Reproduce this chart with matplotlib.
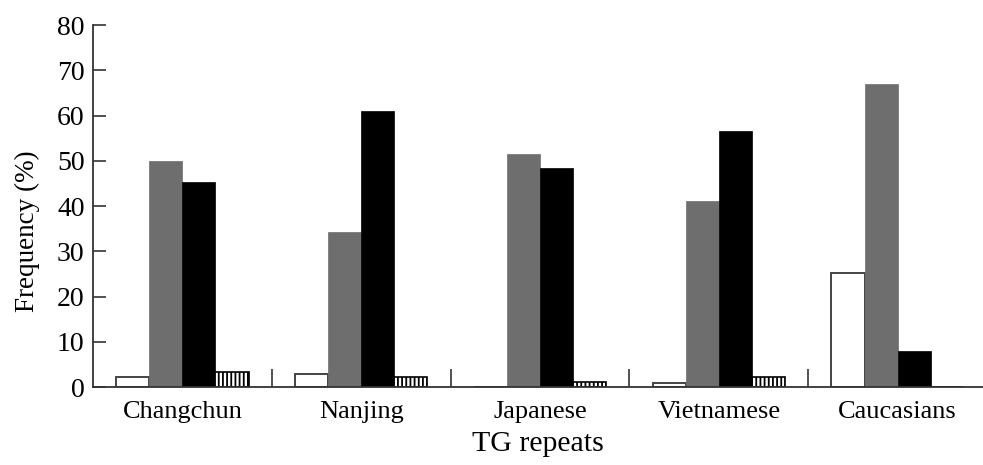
import matplotlib.pyplot as plt
import numpy as np

plt.rcParams['font.family'] = ['Liberation Serif', 'DejaVu Serif']
plt.rcParams['hatch.linewidth'] = 1.3

populations = ["Changchun", "Nanjing", "Japanese", "Vietnamese", "Caucasians"]
repeat_a = [2.2, 2.9, 0.0, 0.8, 25.1]     # white
repeat_b = [50.0, 34.3, 51.4, 41.2, 66.9]  # grey
repeat_c = [45.3, 61.0, 48.5, 56.5, 8.0]   # black
repeat_d = [3.4, 2.2, 1.1, 2.1, 0.0]       # hatched
yticks = [0, 10, 20, 30, 40, 50, 60, 70, 80]

fig = plt.figure(figsize=(9.83, 4.65), dpi=100)
ax = fig.add_axes([93 / 983, 1 - 387 / 465, 1 - 93 / 983, (387 - 25) / 465])

x = np.arange(len(populations))
w = 0.185

ax.bar(x - 1.5 * w, repeat_a, w, color="white", edgecolor="#444444", linewidth=1.4)
ax.bar(x - 0.5 * w, repeat_b, w, color="#6e6e6e", edgecolor="#6e6e6e", linewidth=0.5)
ax.bar(x + 0.5 * w, repeat_c, w, color="black", edgecolor="black", linewidth=0.5)
ax.bar(x + 1.5 * w, repeat_d, w, color="white", edgecolor="black", linewidth=1.2,
       hatch="||||")

ax.set_xlim(-0.5, 4.5 - 4 / 178.5)
ax.set_ylim(0, 80)
ax.set_yticks(yticks)
ax.tick_params(axis="y", direction="in", length=9, width=1.2, color="#333333",
               labelsize=20, pad=6)

# category labels centred, boundary ticks between groups
ax.set_xticks(x)
ax.set_xticklabels(populations, fontsize=19)
ax.tick_params(axis="x", length=0, pad=10)
ax.set_xticks(np.arange(0.5, 4.0, 1.0), minor=True)
ax.tick_params(axis="x", which="minor", direction="in", length=13, width=1.2,
               color="#333333")

for side in ("top", "right"):
    ax.spines[side].set_visible(False)
for side in ("left", "bottom"):
    ax.spines[side].set_color("#333333")
    ax.spines[side].set_linewidth(1.3)

ax.set_ylabel("Frequency (%)", fontsize=19.5)
ax.yaxis.set_label_coords(-0.06, 0.43)
ax.set_xlabel("TG repeats", fontsize=21.5, labelpad=6)

fig.savefig("out.png", dpi=100)
